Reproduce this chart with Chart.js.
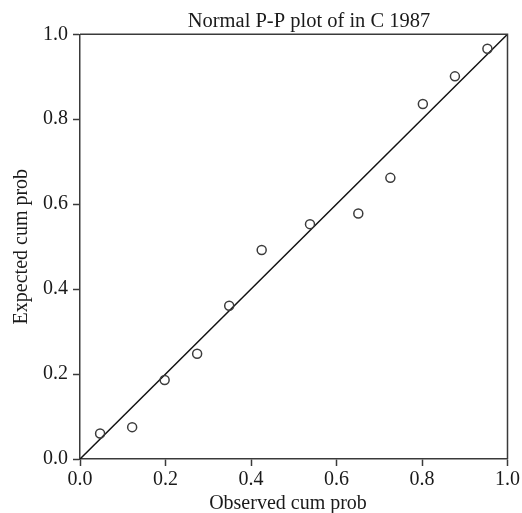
<!DOCTYPE html>
<html>
<head>
<meta charset="utf-8">
<script src="https://cdn.jsdelivr.net/npm/chart.js@4"></script>
<style>
    html, body { margin: 0; padding: 0; background: #fff; }
    #wrap { width: 522px; height: 513px; }
</style>
</head>
<body>
<div id="wrap"><canvas id="ppChart" width="522" height="513"></canvas></div>
<script>
// 数据：观测累积概率 / 期望累积概率
const observedProb = [0.047, 0.122, 0.198, 0.274, 0.349, 0.425, 0.538, 0.651, 0.726, 0.802, 0.877, 0.953];
const expectedProb = [0.060, 0.075, 0.186, 0.248, 0.361, 0.492, 0.553, 0.578, 0.662, 0.836, 0.901, 0.966];
const refLine = [0, 1];
const tickValues = [0, 0.2, 0.4, 0.6, 0.8, 1.0];

const chartTitle = 'Normal P-P plot of in C 1987';
const xTitle = 'Observed cum prob';
const yTitle = 'Expected cum prob';

const FONT = "'Liberation Serif', 'Times New Roman', serif";
const INK = '#1a1a1a';
const AXIS = '#3a3a3a';

// 边框与标题插件：画出绘图区上边、右边，以及标题文字
const framePlugin = {
    id: 'frame',
    afterDraw(chart) {
        const { ctx, chartArea: a } = chart;
        ctx.save();
        ctx.strokeStyle = AXIS;
        ctx.lineWidth = 1.5;
        ctx.beginPath();
        ctx.moveTo(a.left, a.top);
        ctx.lineTo(a.right, a.top);
        ctx.lineTo(a.right, a.bottom);
        ctx.stroke();

        ctx.fillStyle = INK;
        ctx.textAlign = 'center';
        ctx.textBaseline = 'alphabetic';
        ctx.font = '20.5px ' + FONT;
        ctx.fillText(chartTitle, 309, 27);
        ctx.font = '20px ' + FONT;
        ctx.fillText(xTitle, 288, 509);
        ctx.restore();
    }
};

const axisStyle = (isY) => ({
    type: 'linear',
    min: 0,
    max: 1,
    afterBuildTicks(scale) {
        scale.ticks = tickValues.map(v => ({ value: v }));
    },
    afterFit(scale) {
        if (isY) scale.width = 80;
        else scale.height = 54;
    },
    border: { display: true, color: AXIS, width: 1.5 },
    grid: {
        display: true,
        drawOnChartArea: false,
        drawTicks: true,
        tickLength: 7,
        tickColor: AXIS,
        tickWidth: 1.5
    },
    ticks: {
        color: INK,
        font: { family: FONT, size: 20 },
        padding: isY ? 5 : 2,
        maxRotation: 0,
        callback: v => Number(v).toFixed(1)
    },
    title: isY ? {
        display: true,
        text: yTitle,
        color: INK,
        font: { family: FONT, size: 20 },
        padding: { top: 10, bottom: 0 }
    } : { display: false }
});

new Chart(document.getElementById('ppChart'), {
    type: 'scatter',
    data: {
        datasets: [
            {
                label: 'points',
                data: observedProb.map((x, i) => ({ x, y: expectedProb[i] })),
                pointStyle: 'circle',
                pointRadius: 4.5,
                pointBorderWidth: 1.5,
                borderColor: '#3c3c3c',
                backgroundColor: 'rgba(255,255,255,0)',
                showLine: false
            },
            {
                label: 'reference',
                data: refLine.map(v => ({ x: v, y: v })),
                showLine: true,
                borderColor: '#111',
                borderWidth: 1.5,
                pointRadius: 0
            }
        ]
    },
    options: {
        responsive: false,
        animation: false,
        layout: { padding: { left: 0, right: 13.5, top: 34.3, bottom: 0 } },
        plugins: {
            legend: { display: false },
            tooltip: { enabled: false },
            title: { display: false }
        },
        scales: {
            x: axisStyle(false),
            y: axisStyle(true)
        }
    },
    plugins: [framePlugin]
});
</script>
</body>
</html>
